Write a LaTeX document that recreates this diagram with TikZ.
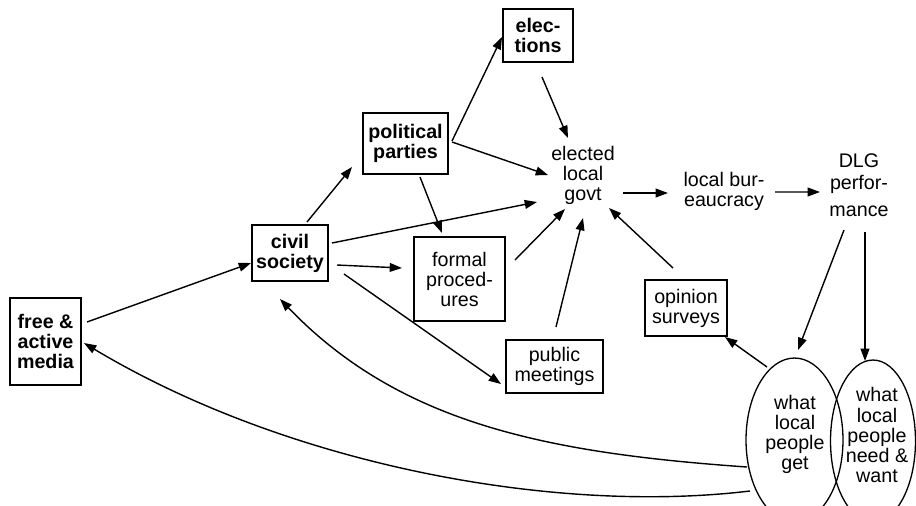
\documentclass[tikz,border=0pt]{standalone}
\usepackage{fontspec}
\setmainfont{Liberation Sans}
\usetikzlibrary{arrows.meta,shapes.geometric}
\begin{document}
\begin{tikzpicture}[x=0.02cm,y=-0.02cm,
  every node/.style={font=\fontsize{11.2}{11.4}\selectfont, align=center, inner sep=0pt},
  box/.style={draw, line width=0.75pt},
  bbox/.style={box, font=\fontsize{11.2}{11.4}\selectfont\bfseries},
  arr/.style={-{Triangle[length=7pt,width=5pt]}, line width=0.8pt},
  oval/.style={draw, ellipse, line width=0.75pt}]
\useasboundingbox (0,0) rectangle (916,505);

% boxes
\node[bbox, minimum width=1.42cm, minimum height=1.74cm] (media) at (45.5,341.5) {free \&\\active\\media};
\node[bbox, minimum width=1.52cm, minimum height=1.12cm] (civil) at (290,253) {civil\\society};
\node[bbox, minimum width=1.70cm, minimum height=1.22cm] (parties) at (405.5,143.5) {political\\parties};
\node[bbox, minimum width=1.40cm, minimum height=1.06cm] (elections) at (538,35.5) {elec-\\tions};
\node[box, minimum width=1.82cm, minimum height=1.68cm] (formal) at (459.5,279) {formal\\proced-\\ures};
\node[box, minimum width=1.94cm, minimum height=1.06cm] (public) at (554.5,366.5) {public\\meetings};
\node[box, minimum width=1.64cm, minimum height=1.12cm] (opinion) at (686,308) {opinion\\surveys};

% free text nodes
\node (govt) at (583,175) {elected\\local\\govt};
\node (bureau) at (724,191) {local bur-\\eaucracy};
\node (dlg) at (859,185.5) {DLG\\[1.1pt]perfor-\\[3.9pt]mance};

% ellipses
\node[oval, minimum width=1.94cm, minimum height=3.28cm] (get) at (794.5,440) {};
\node[oval, minimum width=1.70cm, minimum height=3.24cm] (need) at (873,441) {};
\node (gettext) at (795,434) {what\\local\\people\\get};
\node (needtext) at (877,435) {what\\local\\people\\need \&\\want};

% connectors
\draw[arr] ([shift={(41.5,-19.5)}]media.center) -- ([shift={(-39,10)}]civil.center);
\draw[arr] ([shift={(17,-31)}]civil.center) -- ([shift={(-53.5,23.5)}]parties.center);
\draw[arr] ([shift={(42,-10)}]civil.center) -- ([shift={(-46,27)}]govt.center);
\draw[arr] ([shift={(47,12)}]civil.center) -- ([shift={(-57.5,-11)}]formal.center);
\draw[arr] ([shift={(54,21)}]civil.center) -- ([shift={(-53.5,17.5)}]public.center);
\draw[arr] ([shift={(46.5,-2.5)}]parties.center) -- ([shift={(-36,1.5)}]elections.center);
\draw[arr] ([shift={(46.5,-1.5)}]parties.center) -- ([shift={(-35,0)}]govt.center);
\draw[arr] ([shift={(14.5,33.5)}]parties.center) -- ([shift={(-17.5,-46)}]formal.center);
\draw[arr] ([shift={(4,41.5)}]elections.center) -- ([shift={(-15,-37)}]govt.center);
\draw[arr] ([shift={(55.5,-19)}]formal.center) -- ([shift={(-18,34)}]govt.center);
\draw[arr] ([shift={(1.5,-39.5)}]public.center) -- ([shift={(0,43)}]govt.center);
\draw[arr] ([shift={(-13,-40)}]opinion.center) -- ([shift={(26,33)}]govt.center);
\draw[arr] ([shift={(40,18)}]govt.center) -- ([shift={(-56,2)}]bureau.center);
\draw[arr] ([shift={(51,1)}]bureau.center) -- ([shift={(-39,6.5)}]dlg.center);
\draw[arr] ([shift={(-15,44.5)}]dlg.center) -- ([shift={(3.5,-90)}]get.center);
\draw[arr] ([shift={(6,46.5)}]dlg.center) -- ([shift={(-8,-80)}]need.center);
\draw[arr] ([shift={(-27.5,-73)}]get.center) -- ([shift={(39,29)}]opinion.center);
\draw[arr] ([shift={(-47.5,27)}]get.center) .. controls (548,453) and (400,424) .. ([shift={(-10,46)}]civil.center);
\draw[arr] ([shift={(-44.5,51)}]get.center) .. controls (550,515) and (284,463) .. ([shift={(38.5,1.5)}]media.center);
\end{tikzpicture}
\end{document}
